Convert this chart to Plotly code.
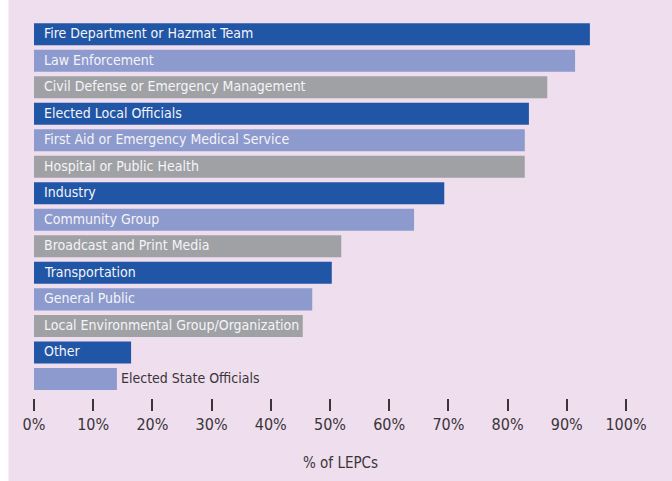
import plotly.graph_objects as go

categories = [
    "Fire Department or Hazmat Team",
    "Law Enforcement",
    "Civil Defense or Emergency Management",
    "Elected Local Officials",
    "First Aid or Emergency Medical Service",
    "Hospital or Public Health",
    "Industry",
    "Community Group",
    "Broadcast and Print Media",
    "Transportation",
    "General Public",
    "Local Environmental Group/Organization",
    "Other",
    "Elected State Officials",
]
values = [93.9, 91.4, 86.7, 83.6, 82.9, 82.9, 69.3, 64.2, 51.9, 50.3, 47.0, 45.4, 16.4, 14.0]
palette = ["#2156A7", "#8C9ACD", "#A0A1A5"]
bar_colors = [palette[i % 3] for i in range(len(categories))]
tick_vals = list(range(0, 101, 10))
tick_text = [f"{v}%" for v in tick_vals]
axis_title = "% of LEPCs"

FONT = "DejaVu Sans Condensed, Liberation Sans Narrow, sans-serif"
BG = "#EEDEEE"
LABEL_SIZE = 14

fig = go.Figure(
    go.Bar(
        y=categories,
        x=values,
        orientation="h",
        marker=dict(color=bar_colors, line=dict(width=0)),
        hoverinfo="skip",
    )
)

W, H = 672, 481
ml, mr, mt, mb = 34, 46, 21, 83
pw = W - ml - mr

annotations = []
for cat, val in zip(categories, values):
    bar_px = val / 100 * pw
    est_w = len(cat) * 0.47 * LABEL_SIZE
    if est_w < bar_px:
        annotations.append(dict(x=0, y=cat, xref="x", yref="y", text=cat, showarrow=False,
                                xanchor="left", xshift=8, yshift=1,
                                font=dict(family=FONT, size=LABEL_SIZE, color="#F4F4F8")))
    else:
        annotations.append(dict(x=val, y=cat, xref="x", yref="y", text=cat, showarrow=False,
                                xanchor="left", xshift=2, yshift=1,
                                font=dict(family=FONT, size=LABEL_SIZE, color="#3A3538")))

annotations.append(dict(x=(341 - ml) / pw, y=(H - mb - 463) / (H - mt - mb), xref="paper", yref="paper",
                        text=axis_title, showarrow=False, xanchor="center", yanchor="middle",
                        font=dict(family=FONT, size=15, color="#3A3538")))

fig.update_layout(
    width=W, height=H,
    margin=dict(l=ml, r=mr, t=mt, b=mb, pad=0),
    paper_bgcolor=BG, plot_bgcolor=BG,
    bargap=0.17,
    showlegend=False,
    annotations=annotations,
    shapes=[dict(type="rect", xref="paper", yref="paper",
                 x0=-ml / pw, x1=(8.5 - ml) / pw, y0=-2, y1=2,
                 fillcolor="#FFFFFF", line=dict(width=0), layer="below")],
    xaxis=dict(range=[0, 100], tickvals=tick_vals, ticktext=tick_text,
               ticks="outside", ticklen=12, tickwidth=1.5, tickcolor="#3A3538",
               showgrid=False, zeroline=False, showline=False,
               tickfont=dict(family=FONT, size=16, color="#3A3538"), fixedrange=True),
    yaxis=dict(range=[13.72, -0.5], showticklabels=False, showgrid=False,
               zeroline=False, showline=False, ticks="", fixedrange=True),
)

fig.write_html("out.html")
